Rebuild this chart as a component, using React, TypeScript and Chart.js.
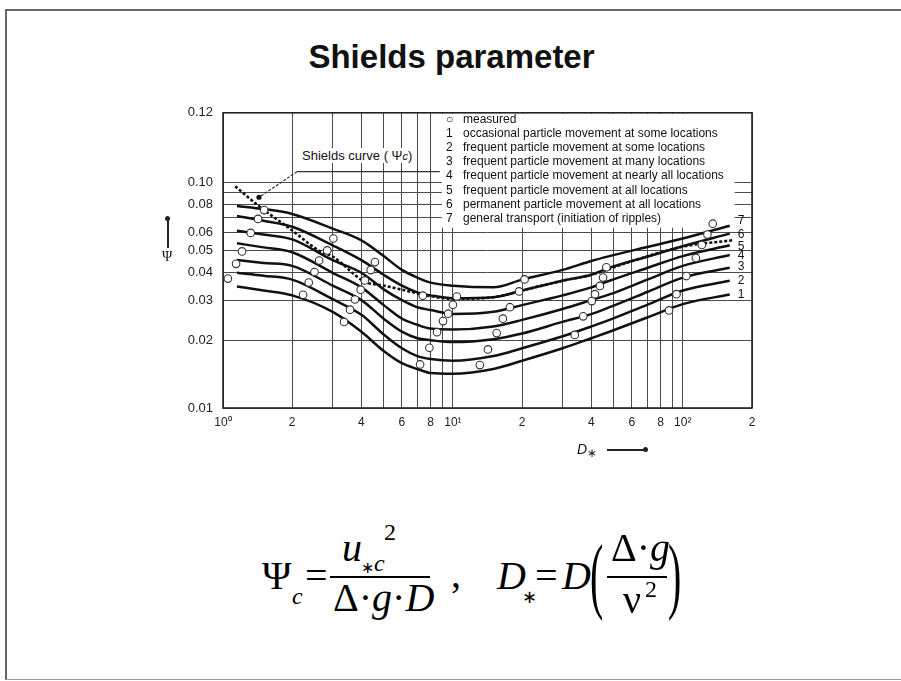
import React, { useEffect, useRef } from "react";
import { Chart, registerables } from "chart.js";

Chart.register(...registerables);

// ---------------- data ----------------
const curveD = [1.15, 1.5, 2, 3, 4, 5, 6, 7, 8, 10, 15, 20, 30, 40, 48, 70, 100, 160];
const curve1 = [0.0346, 0.0332, 0.0316, 0.0267, 0.0218, 0.0179, 0.0158, 0.0149, 0.0143, 0.0142, 0.0149, 0.0162, 0.0184, 0.0204, 0.0218, 0.0252, 0.0289, 0.0319];
const curve2 = [0.0398, 0.0386, 0.0371, 0.0304, 0.0259, 0.0212, 0.0184, 0.017, 0.0165, 0.0162, 0.017, 0.0184, 0.0208, 0.023, 0.0246, 0.0287, 0.0332, 0.0367];
const curve3 = [0.0453, 0.044, 0.0427, 0.0349, 0.0301, 0.0249, 0.0218, 0.0204, 0.02, 0.0196, 0.0202, 0.0214, 0.0241, 0.0261, 0.028, 0.0327, 0.0379, 0.0419];
const curve4 = [0.0538, 0.0516, 0.0491, 0.0398, 0.0343, 0.0286, 0.0249, 0.0234, 0.0225, 0.0223, 0.023, 0.0246, 0.0275, 0.0301, 0.0319, 0.0371, 0.0427, 0.0477];
const curve5 = [0.0612, 0.0588, 0.056, 0.0453, 0.0398, 0.0336, 0.0301, 0.028, 0.0272, 0.0261, 0.0267, 0.0286, 0.0316, 0.0343, 0.0367, 0.0418, 0.0472, 0.0527];
const curve6 = [0.0711, 0.0677, 0.0637, 0.0527, 0.0453, 0.039, 0.0349, 0.0326, 0.0316, 0.0307, 0.031, 0.0332, 0.0367, 0.039, 0.0419, 0.0469, 0.0522, 0.0594];
const curve7 = [0.0787, 0.0763, 0.0726, 0.0625, 0.0554, 0.0472, 0.041, 0.0379, 0.036, 0.0349, 0.0343, 0.0371, 0.041, 0.0449, 0.0472, 0.0518, 0.0565, 0.0644];
const curveNames = ["1", "2", "3", "4", "5", "6", "7"];

const shieldsD = [1.13, 1.4, 2, 2.64, 3, 4.1, 5, 6, 7.7, 10, 15, 20, 30, 40, 60, 100, 165];
const shieldsPsi = [0.0963, 0.0801, 0.0613, 0.0496, 0.047, 0.0365, 0.0349, 0.0335, 0.0316, 0.0305, 0.031, 0.0332, 0.0367, 0.039, 0.0448, 0.052, 0.0555];

const measuredD = [1.05, 1.14, 1.21, 1.32, 1.42, 1.51, 2.23, 2.36, 2.5, 2.62, 2.84, 3.02, 3.36, 3.57, 3.75, 3.97, 4.14, 4.39, 4.58, 7.2, 7.4, 7.9, 8.53, 9.06, 9.54, 10.0, 10.4, 13.1, 14.2, 15.5, 16.5, 17.7, 19.4, 20.5, 33.9, 36.9, 40.2, 41.5, 43.6, 45.0, 46.5, 87.1, 93.9, 103.6, 114, 121, 128, 135];
const measuredPsi = [0.0375, 0.0436, 0.0495, 0.0598, 0.069, 0.0755, 0.0318, 0.036, 0.0401, 0.0451, 0.05, 0.0565, 0.0241, 0.0273, 0.0303, 0.0335, 0.0368, 0.0409, 0.0444, 0.0156, 0.0315, 0.0185, 0.0217, 0.0243, 0.0262, 0.0287, 0.0312, 0.0155, 0.0182, 0.0215, 0.0249, 0.028, 0.0329, 0.0372, 0.0211, 0.0255, 0.0298, 0.032, 0.0348, 0.0379, 0.0421, 0.0271, 0.032, 0.0385, 0.0463, 0.0529, 0.0588, 0.0657];

const X_MIN = 1;
const X_MAX = 200;
const Y_MIN = 0.01;
const Y_MAX = 0.204;
const xTickValues = [1, 2, 3, 4, 5, 6, 7, 8, 9, 10, 20, 30, 40, 50, 60, 70, 80, 90, 100, 200];
const xTickLabels = ["10⁰", "2", "", "4", "", "6", "", "8", "", "10¹", "2", "", "4", "", "6", "", "8", "", "10²", "2"];
const yTickValues = [0.01, 0.02, 0.03, 0.04, 0.05, 0.06, 0.07, 0.08, 0.09, 0.1, Y_MAX];
const yTickLabels = ["0.01", "0.02", "0.03", "0.04", "0.05", "0.06", "", "0.08", "", "0.10", "0.12"];

const legendKeys = ["○", "1", "2", "3", "4", "5", "6", "7"];
const legendTexts = [
  "measured",
  "occasional particle movement at some locations",
  "frequent particle movement at some locations",
  "frequent particle movement at many locations",
  "frequent particle movement at nearly all locations",
  "frequent particle movement at all locations",
  "permanent particle movement at all locations",
  "general transport (initiation of ripples)",
];

const TITLE = "Shields parameter";

// ---------------- layout ----------------
const CANVAS_LEFT = 130;
const CANVAS_TOP = 95;
const CANVAS_W = 660;
const CANVAS_H = 380;
const SANS = '"Liberation Sans", Arial, sans-serif';
const SERIF = '"Liberation Serif", "Times New Roman", serif';
const curveLabelDy = [0, 0, -1, 1, 1, 1, -5];

const overlayPlugin = {
  id: "overlay",
  beforeDatasetsDraw(chart: any) {
    const { ctx, chartArea: a, scales } = chart;
    const x = scales.x;
    const y = scales.y;
    ctx.save();
    // white legend panel covering the grid
    const lx0 = x.getPixelForValue(8.95);
    const lx1 = x.getPixelForValue(168);
    const ly1 = y.getPixelForValue(0.0631);
    ctx.fillStyle = "#ffffff";
    ctx.fillRect(lx0, a.top + 1, lx1 - lx0, ly1 - a.top - 1);
    // frame
    ctx.strokeStyle = "#222";
    ctx.lineWidth = 1.6;
    ctx.strokeRect(a.left, a.top, a.right - a.left, a.bottom - a.top);
    // leader line of the "Shields curve" note
    const p0x = x.getPixelForValue(1.434), p0y = y.getPixelForValue(0.0861);
    const p1x = x.getPixelForValue(2.1), p1y = y.getPixelForValue(0.1118);
    const p2x = x.getPixelForValue(8.77);
    ctx.strokeStyle = "#333";
    ctx.lineWidth = 1.2;
    ctx.beginPath();
    ctx.moveTo(p2x, p1y);
    ctx.lineTo(p1x, p1y);
    ctx.stroke();
    ctx.setLineDash([3, 1.5]);
    ctx.beginPath();
    ctx.moveTo(p1x, p1y);
    ctx.lineTo(p0x, p0y);
    ctx.stroke();
    ctx.setLineDash([]);
    ctx.fillStyle = "#111";
    ctx.beginPath();
    ctx.arc(p0x, p0y, 2.6, 0, Math.PI * 2);
    ctx.fill();
    ctx.restore();
  },
  afterDatasetsDraw(chart: any) {
    const { ctx } = chart;
    ctx.save();
    ctx.fillStyle = "#111";
    ctx.font = `12px ${SANS}`;
    ctx.textAlign = "left";
    ctx.textBaseline = "middle";
    for (let i = 0; i < curveNames.length; i++) {
      const meta = chart.getDatasetMeta(i);
      const pt = meta.data[meta.data.length - 1];
      ctx.fillText(curveNames[i], pt.x + 8, pt.y + curveLabelDy[i]);
    }
    ctx.restore();
  },
};

function ShieldsChart() {
  const ref = useRef<HTMLCanvasElement | null>(null);
  useEffect(() => {
    if (!ref.current) return;
    const curves = [curve1, curve2, curve3, curve4, curve5, curve6, curve7];
    const datasets: any[] = curves.map((c, k) => ({
      label: curveNames[k],
      data: curveD.map((d, i) => ({ x: d, y: c[i] })),
      borderColor: "#111",
      borderWidth: 2.5,
      pointRadius: 0,
      cubicInterpolationMode: "monotone",
      fill: false,
      order: 3,
    }));
    datasets.push({
      label: "Shields curve",
      data: shieldsD.map((d, i) => ({ x: d, y: shieldsPsi[i] })),
      borderColor: "#111",
      borderWidth: 2.6,
      borderDash: [3, 2],
      pointRadius: 0,
      cubicInterpolationMode: "monotone",
      fill: false,
      order: 2,
    });
    datasets.push({
      label: "measured",
      data: measuredD.map((d, i) => ({ x: d, y: measuredPsi[i] })),
      showLine: false,
      pointRadius: 3.8,
      pointBackgroundColor: "#fff",
      pointBorderColor: "#333",
      pointBorderWidth: 1.1,
      order: 1,
    });
    const chart = new Chart(ref.current, {
      type: "line",
      data: { datasets },
      options: {
        animation: false,
        responsive: false,
        devicePixelRatio: 1,
        layout: { padding: { left: 0, right: 38, top: 13, bottom: 0 } },
        plugins: { legend: { display: false }, tooltip: { enabled: false } },
        scales: {
          x: {
            type: "logarithmic",
            min: X_MIN,
            max: X_MAX,
            afterBuildTicks: (s: any) => {
              s.ticks = xTickValues.map((v) => ({ value: v }));
            },
            afterFit: (s: any) => {
              s.height = 67;
            },
            ticks: {
              callback: (_v: any, i: number) => xTickLabels[i] ?? "",
              autoSkip: false,
              maxRotation: 0,
              padding: 7,
              color: "#222",
              font: { family: SANS, size: 12 },
            },
            grid: { color: "#4a4a4a", lineWidth: 1, drawTicks: false },
            border: { display: false },
          },
          y: {
            type: "logarithmic",
            min: Y_MIN,
            max: Y_MAX,
            afterBuildTicks: (s: any) => {
              s.ticks = yTickValues.map((v) => ({ value: v }));
            },
            afterFit: (s: any) => {
              s.width = 93;
            },
            ticks: {
              callback: (_v: any, i: number) => yTickLabels[i] ?? "",
              autoSkip: false,
              padding: 10,
              color: "#222",
              font: { family: SANS, size: 13 },
            },
            grid: { color: "#4a4a4a", lineWidth: 1, drawTicks: false },
            border: { display: false },
          },
        },
      } as any,
      plugins: [overlayPlugin as any],
    });
    return () => chart.destroy();
  }, []);
  return (
    <canvas
      ref={ref}
      width={CANVAS_W}
      height={CANVAS_H}
      style={{ position: "absolute", left: CANVAS_LEFT, top: CANVAS_TOP, width: CANVAS_W, height: CANVAS_H }}
    />
  );
}

const abs = (left: number, top: number, extra: React.CSSProperties = {}): React.CSSProperties => ({
  position: "absolute",
  left,
  top,
  lineHeight: 1,
  whiteSpace: "nowrap",
  ...extra,
});

function Formula() {
  const big = { fontFamily: SERIF, fontSize: 40, color: "#000" };
  const small = { fontFamily: SERIF, fontSize: 24, color: "#000" };
  const tiny = { fontFamily: SERIF, fontSize: 18, color: "#000" };
  const it = { fontStyle: "italic" as const };
  return (
    <>
      <span style={abs(262, 556, big)}>Ψ</span>
      <span style={abs(292, 584, { ...small, ...it })}>c</span>
      <span style={abs(305, 556, big)}>=</span>
      <span style={abs(342, 528, { ...big, ...it })}>u</span>
      <span style={abs(361, 551, small)}>
        <span style={{ fontSize: 16, verticalAlign: "-2px" }}>∗</span>
        <i>c</i>
      </span>
      <span style={abs(384, 520, small)}>2</span>
      <div style={abs(330, 576, { width: 100, height: 2, background: "#000" })} />
      <span style={abs(333, 578, big)}>
        Δ·<i>g</i>·<i>D</i>
      </span>
      <span style={abs(451, 554, big)}>,</span>
      <span style={abs(497, 556, { ...big, ...it })}>D</span>
      <span style={abs(522, 588, tiny)}>∗</span>
      <span style={abs(535, 556, big)}>=</span>
      <span style={abs(562, 556, { ...big, ...it })}>D</span>
      <span style={abs(590, 556, { ...big, transform: "scaleY(2.1)", transformOrigin: "50% 50%" })}>(</span>
      <span style={abs(611, 528, big)}>
        Δ·<i>g</i>
      </span>
      <div style={abs(607, 576, { width: 60, height: 2, background: "#000" })} />
      <span style={abs(623, 580, big)}>ν</span>
      <span style={abs(645, 577, small)}>2</span>
      <span style={abs(668, 556, { ...big, transform: "scaleY(2.1)", transformOrigin: "50% 50%" })}>)</span>
    </>
  );
}

export default function App() {
  const legendRow0 = 113;
  const legendStep = 14.1;
  return (
    <div
      style={{
        position: "absolute",
        left: 0,
        top: 0,
        width: 901,
        height: 681,
        overflow: "hidden",
        background: "#fff",
        fontFamily: SANS,
      }}
    >
      {/* slide frame */}
      <div
        style={{
          position: "absolute",
          left: 5,
          top: 9,
          width: 960,
          height: 668,
          borderTop: "2px solid #666",
          borderLeft: "2px solid #666",
          borderBottom: "1px solid #999",
        }}
      />
      <div
        style={{
          position: "absolute",
          left: 0,
          width: 903,
          top: 40,
          textAlign: "center",
          fontFamily: SANS,
          fontWeight: "bold",
          fontSize: 33,
          color: "#111",
          lineHeight: 1,
        }}
      >
        {TITLE}
      </div>
      <ShieldsChart />
      {/* legend */}
      {legendTexts.map((t, i) => (
        <div key={i} style={abs(446, legendRow0 + i * legendStep, { fontSize: 12, color: "#111", fontFamily: SANS })}>
          <span style={{ display: "inline-block", width: 17 }}>{legendKeys[i]}</span>
          {t}
        </div>
      ))}
      {/* note */}
      <div style={abs(300, 148, { fontSize: 13, color: "#111", background: "#fff", padding: "1px 2px" })}>
        Shields curve ( Ψ<i style={{ fontSize: 11 }}>c</i>)
      </div>
      {/* y axis title with arrow */}
      <div style={abs(167, 218, { width: 1.5, height: 30, background: "#222" })} />
      <div style={abs(165, 216, { width: 5, height: 5, borderRadius: 3, background: "#222" })} />
      <div style={abs(162, 250, { fontSize: 14, fontFamily: SERIF, color: "#111" })}>Ψ</div>
      {/* x axis title with arrow */}
      <div style={abs(577, 442, { fontSize: 14, fontFamily: SANS, fontStyle: "italic", color: "#111" })}>
        D<span style={{ fontSize: 12, fontStyle: "normal", verticalAlign: "-3px" }}>∗</span>
      </div>
      <div style={abs(607, 449, { width: 38, height: 1.5, background: "#222" })} />
      <div style={abs(643, 447, { width: 5, height: 5, borderRadius: 3, background: "#222" })} />
      <Formula />
    </div>
  );
}
